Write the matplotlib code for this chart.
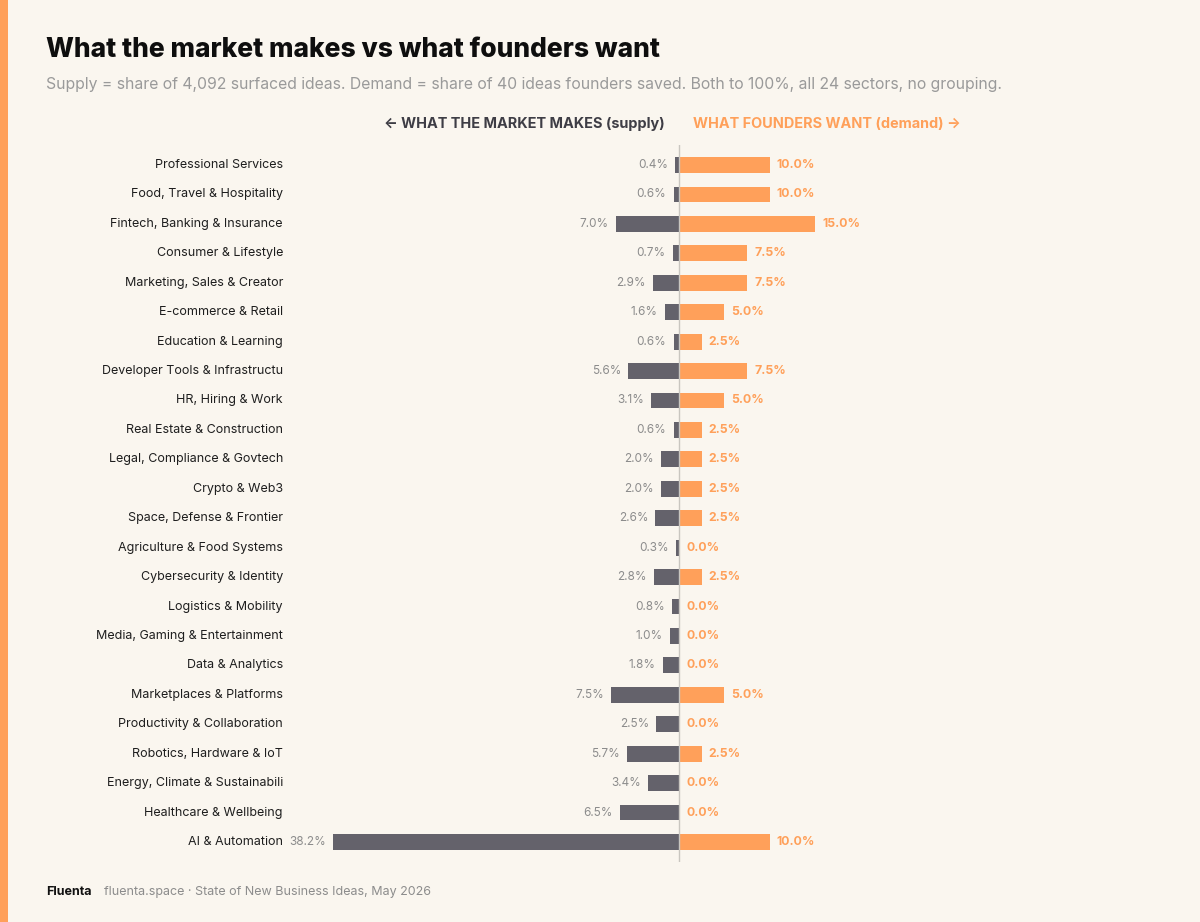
import matplotlib.pyplot as plt
import matplotlib.transforms as mtransforms
from matplotlib.patches import Rectangle

plt.rcParams["font.family"] = ["Inter", "DejaVu Sans"]

SECTORS = [
    "Professional Services", "Food, Travel & Hospitality", "Fintech, Banking & Insurance",
    "Consumer & Lifestyle", "Marketing, Sales & Creator", "E-commerce & Retail",
    "Education & Learning", "Developer Tools & Infrastructu", "HR, Hiring & Work",
    "Real Estate & Construction", "Legal, Compliance & Govtech", "Crypto & Web3",
    "Space, Defense & Frontier", "Agriculture & Food Systems", "Cybersecurity & Identity",
    "Logistics & Mobility", "Media, Gaming & Entertainment", "Data & Analytics",
    "Marketplaces & Platforms", "Productivity & Collaboration", "Robotics, Hardware & IoT",
    "Energy, Climate & Sustainabili", "Healthcare & Wellbeing", "AI & Automation",
]
SUPPLY = [0.4, 0.6, 7.0, 0.7, 2.9, 1.6, 0.6, 5.6, 3.1, 0.6, 2.0, 2.0,
          2.6, 0.3, 2.8, 0.8, 1.0, 1.8, 7.5, 2.5, 5.7, 3.4, 6.5, 38.2]
DEMAND = [10.0, 10.0, 15.0, 7.5, 7.5, 5.0, 2.5, 7.5, 5.0, 2.5, 2.5, 2.5,
          2.5, 0.0, 2.5, 0.0, 0.0, 0.0, 5.0, 0.0, 2.5, 0.0, 0.0, 10.0]

BG = "#faf6ef"
ORANGE = "#ffa05a"
DARK = "#64626b"
W, H = 1200, 922

fig = plt.figure(figsize=(W / 100, H / 100), dpi=100, facecolor=BG)
fig.patches.append(Rectangle((0, 0), 8 / W, 1, transform=fig.transFigure,
                             color=ORANGE, lw=0, zorder=0))

ax = fig.add_axes([290 / W, 1 - 862 / H, 810 / W, 717 / H])
ax.set_facecolor(BG)
for s in ax.spines.values():
    s.set_visible(False)
ax.set_xticks([])
ax.set_yticks([])

px = 9.05  # pixels per percentage point
ax.set_xlim(-(679 - 290) / px, (1100 - 679) / px)
ax.set_ylim(23.68, -0.68)

ys = list(range(len(SECTORS)))
ax.barh(ys, [-v for v in SUPPLY], height=0.54, color=DARK, zorder=2)
ax.barh(ys, DEMAND, height=0.54, color=ORANGE, zorder=2)
ax.axvline(0, color="#c9c6c0", lw=1, zorder=3)

gap = 0.8
label_tr = mtransforms.blended_transform_factory(fig.transFigure, ax.transData)
for y, name, s, d in zip(ys, SECTORS, SUPPLY, DEMAND):
    ax.text(283 / W, y, name, transform=label_tr, ha="right", va="center",
            fontsize=9.0, color="#1e1e1e")
    ax.text(-s - gap, y, f"{s:.1f}%", ha="right", va="center",
            fontsize=8.5, color="#8c8c8c")
    ax.text(d + gap, y, f"{d:.1f}%", ha="left", va="center",
            fontsize=8.8, color=ORANGE, fontweight="bold")

fig.text(46 / W, 1 - 50 / H, "What the market makes vs what founders want",
         fontsize=19, fontweight="heavy", color="#0e0e0e", va="center")
fig.text(46 / W, 1 - 84 / H,
         "Supply = share of 4,092 surfaced ideas. Demand = share of 40 ideas founders saved. "
         "Both to 100%, all 24 sectors, no grouping.",
         fontsize=11.35, color="#9a9a9a", va="center")
fig.text(665 / W, 1 - 124 / H, "← WHAT THE MARKET MAKES (supply)",
         fontsize=10.4, fontweight="bold", color="#3e3d45", ha="right", va="center")
fig.text(693 / W, 1 - 124 / H, "WHAT FOUNDERS WANT (demand) →",
         fontsize=10.4, fontweight="bold", color=ORANGE, ha="left", va="center")

fig.text(46 / W, 1 - 892 / H, "Fluenta", fontsize=9.0, fontweight="bold",
         color="#111111", va="center")
fig.text(104 / W, 1 - 892 / H, "fluenta.space · State of New Business Ideas, May 2026",
         fontsize=9.0, color="#8c8c8c", va="center")

fig.savefig("out.png", dpi=100, facecolor=BG)
